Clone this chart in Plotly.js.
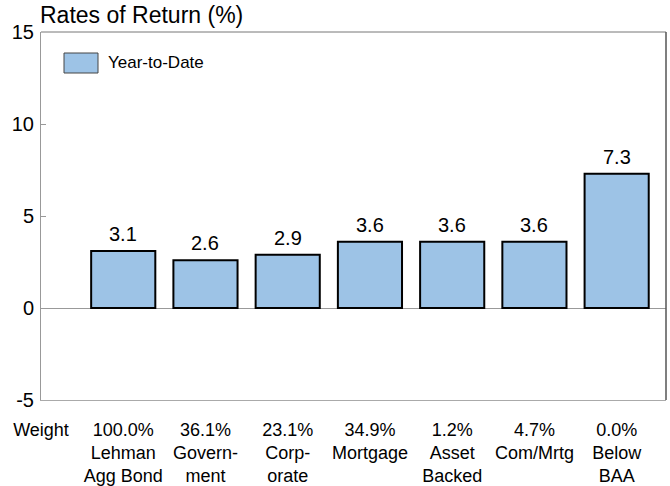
<!DOCTYPE html>
<html>
<head>
<meta charset="utf-8">
<script src="https://cdn.plot.ly/plotly-3.0.1.min.js"></script>
<style>html,body{margin:0;padding:0;background:#fff;}#chart{width:670px;height:486px;}</style>
</head>
<body>
<div id="chart"></div>
<script>
const categories = ["Lehman Agg Bond", "Government", "Corporate", "Mortgage", "Asset Backed", "Com/Mrtg", "Below BAA"];
const tickLabels = ["Weight", "100.0%<br>Lehman<br>Agg Bond", "36.1%<br>Govern-<br>ment", "23.1%<br>Corp-<br>orate", "34.9%<br>Mortgage", "1.2%<br>Asset<br>Backed", "4.7%<br>Com/Mrtg", "0.0%<br>Below<br>BAA"];
const ytdReturns = [3.1, 2.6, 2.9, 3.6, 3.6, 3.6, 7.3];
const seriesName = "Year-to-Date";
const yTicks = [-5, 0, 5, 10, 15];

const FONT = "'Liberation Sans', Arial, Helvetica, sans-serif";
const xPos = categories.map((c, i) => i + 1);

const trace = {
  type: "bar",
  x: xPos,
  y: ytdReturns,
  name: seriesName,
  width: 0.78,
  marker: {color: "#9dc3e6", line: {color: "#000", width: 2}},
  showlegend: false,
  hoverinfo: "skip"
};

const valueLabels = xPos.map((x, i) => ({
  x: x, y: ytdReturns[i], xref: "x", yref: "y",
  text: ytdReturns[i].toFixed(1), showarrow: false,
  xanchor: "center", yanchor: "bottom", yshift: 4,
  font: {family: FONT, size: 20, color: "#000"}
}));

const layout = {
  width: 670, height: 486,
  margin: {l: 41, r: 4, t: 32, b: 86},
  paper_bgcolor: "#fff", plot_bgcolor: "#fff",
  font: {family: FONT, color: "#000"},
  title: {text: "Rates of Return (%)", font: {family: FONT, size: 23, color: "#000"},
          xref: "container", yref: "container", x: 40/670, xanchor: "left", y: 1 - 15/486, yanchor: "middle"},
  xaxis: {
    range: [0, 7.6], tickvals: [0,1,2,3,4,5,6,7], ticktext: tickLabels,
    showgrid: false, zeroline: false, ticks: "", showline: true, linecolor: "#aaa", linewidth: 1, mirror: false,
    tickfont: {family: FONT, size: 18, color: "#000"}, ticklabelstandoff: 13, fixedrange: true
  },
  yaxis: {
    range: [-5, 15], tickvals: yTicks, ticktext: yTicks.map(String),
    showgrid: false, zeroline: true, zerolinecolor: "#999", zerolinewidth: 1,
    showline: true, linecolor: "#999", linewidth: 1, mirror: false,
    ticks: "inside", ticklen: 5, tickcolor: "#999", tickwidth: 1,
    tickfont: {family: FONT, size: 20, color: "#000"}, ticklabelstandoff: 2, fixedrange: true
  },
  shapes: [
    {type: "line", xref: "paper", yref: "paper", x0: 0, x1: 1, y0: 1, y1: 1, line: {color: "#777", width: 1}},
    {type: "line", xref: "paper", yref: "paper", x0: 1, x1: 1, y0: 0, y1: 1, line: {color: "#555", width: 1.5}},
    {type: "rect", xref: "paper", yref: "paper", x0: 23/625, x1: 57/625, y0: 1 - 41/368, y1: 1 - 21/368,
     fillcolor: "#9dc3e6", line: {color: "#444", width: 1}}
  ],
  annotations: valueLabels.concat([
    {xref: "paper", yref: "paper", x: 65/625, y: 1 - 31/368, xanchor: "left", yanchor: "middle",
     text: seriesName, showarrow: false, font: {family: FONT, size: 17, color: "#000"}}
  ])
};

Plotly.newPlot("chart", [trace], layout, {displayModeBar: false, staticPlot: true});
</script>
</body>
</html>
